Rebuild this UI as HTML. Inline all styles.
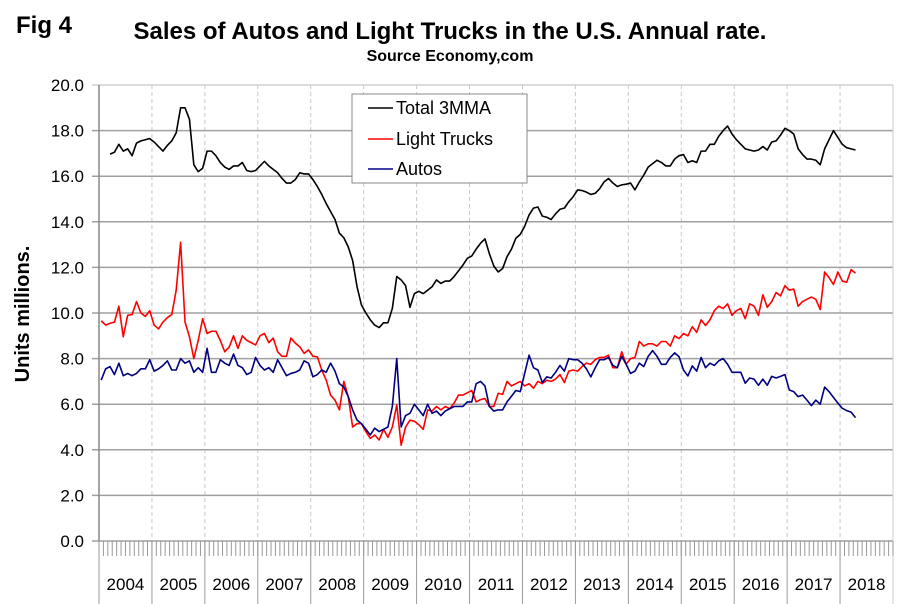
<!DOCTYPE html>
<html><head><meta charset="utf-8"><style>
html,body{margin:0;padding:0;background:#fff;}
svg{display:block;font-family:"Liberation Sans",Arial,sans-serif;}
</style></head><body>
<svg id="chart" width="902" height="604" viewBox="0 0 902 604">
<text x="16" y="33" font-size="24" font-weight="bold">Fig 4</text>
<text x="450" y="39" font-size="24" font-weight="bold" text-anchor="middle">Sales of Autos and Light Trucks in the U.S. Annual rate.</text>
<text x="450" y="61" font-size="16" font-weight="bold" text-anchor="middle">Source Economy,com</text>
<text transform="translate(29,314) rotate(-90)" font-size="20" font-weight="bold" text-anchor="middle">Units millions.</text>
<g id="grid"></g>
<g id="axes"></g>
<g id="series"></g>
<g>
<rect x="352" y="94" width="175" height="89" fill="#fff" stroke="#888" stroke-width="1"/>
<g><line x1="368" y1="108" x2="393" y2="108" stroke="#000" stroke-width="1.5"/><text x="396" y="114" font-size="18">Total 3MMA</text></g>
<g><line x1="368" y1="139" x2="393" y2="139" stroke="#f00" stroke-width="1.5"/><text x="396" y="145" font-size="18">Light Trucks</text></g>
<g><line x1="368" y1="169" x2="393" y2="169" stroke="#00008b" stroke-width="1.5"/><text x="396" y="175" font-size="18">Autos</text></g>
</g>
</svg>
<script>
const years = [2004,2005,2006,2007,2008,2009,2010,2011,2012,2013,2014,2015,2016,2017,2018];
const yTicks = [0,2,4,6,8,10,12,14,16,18,20];
const total = [null,null,16.97,17.05,17.4,17.1,17.2,16.9,17.45,17.55,17.6,17.65,
17.5,17.3,17.1,17.35,17.55,17.9,19.0,19.0,18.5,16.5,16.2,16.35,
17.1,17.1,16.9,16.6,16.4,16.3,16.45,16.45,16.6,16.25,16.2,16.25,
16.45,16.65,16.45,16.3,16.15,15.9,15.7,15.7,15.85,16.15,16.1,16.1,
15.85,15.55,15.2,14.8,14.45,14.1,13.5,13.3,12.9,12.3,11.15,10.35,
10.0,9.7,9.47,9.36,9.57,9.57,10.2,11.6,11.45,11.2,10.25,10.85,
10.95,10.85,11.0,11.15,11.45,11.3,11.4,11.4,11.6,11.85,12.1,12.4,
12.5,12.8,13.06,13.25,12.6,12.06,11.8,11.95,12.47,12.8,13.28,13.45,
13.8,14.3,14.6,14.65,14.25,14.2,14.1,14.35,14.55,14.6,14.88,15.1,
15.4,15.37,15.3,15.2,15.25,15.45,15.75,15.9,15.7,15.55,15.62,15.65,
15.7,15.4,15.75,16.05,16.4,16.55,16.7,16.6,16.45,16.45,16.75,16.9,
16.95,16.6,16.68,16.6,17.1,17.1,17.4,17.4,17.75,18.0,18.2,17.85,
17.6,17.4,17.2,17.15,17.1,17.15,17.3,17.15,17.5,17.55,17.8,18.1,
18.0,17.85,17.2,16.95,16.75,16.75,16.7,16.5,17.2,17.6,18.0,17.7,
17.4,17.25,17.2,17.15];
const lightTrucks = [9.66,9.47,9.55,9.6,10.3,8.96,9.9,9.93,10.5,10.0,9.85,10.1,
9.47,9.3,9.6,9.8,9.93,11.0,13.1,9.6,8.96,8.0,8.8,9.75,
9.1,9.2,9.2,8.8,8.3,8.5,9.0,8.45,9.0,8.8,8.7,8.6,
9.0,9.1,8.7,8.9,8.3,8.1,8.1,8.9,8.68,8.52,8.23,8.38,
8.1,8.08,7.5,7.06,6.4,6.18,5.75,7.0,6.33,5.0,5.15,5.15,
4.8,4.5,4.65,4.43,4.9,4.55,5.0,5.97,4.2,5.0,5.3,5.25,
5.1,4.9,5.75,5.7,5.9,5.75,5.9,5.8,6.05,6.4,6.4,6.5,
6.6,6.1,6.2,6.25,5.9,5.9,6.48,6.43,7.0,6.8,6.9,7.0,
6.8,6.9,6.7,7.0,6.9,7.05,7.0,7.1,7.3,6.95,7.45,7.5,
7.45,7.65,7.8,7.75,7.95,8.05,8.05,8.15,7.6,7.6,8.3,7.75,
8.0,8.05,8.75,8.55,8.65,8.65,8.55,8.75,8.75,8.55,9.0,8.88,
9.1,9.0,9.4,9.15,9.7,9.45,9.7,10.1,10.3,10.2,10.4,9.9,
10.1,10.2,9.75,10.4,10.3,9.9,10.8,10.25,10.5,10.9,10.75,11.2,
11.0,11.05,10.3,10.5,10.6,10.7,10.6,10.15,11.8,11.55,11.25,11.8,
11.4,11.35,11.9,11.75];
const autos = [7.06,7.55,7.65,7.3,7.8,7.25,7.35,7.25,7.35,7.55,7.55,7.95,
7.45,7.55,7.7,7.9,7.5,7.5,8.0,7.8,7.9,7.4,7.6,7.4,
8.45,7.4,7.4,7.95,7.8,7.7,8.2,7.7,7.6,7.3,7.4,8.05,
7.7,7.5,7.6,7.4,7.95,7.6,7.25,7.35,7.4,7.5,7.9,7.8,
7.2,7.3,7.5,7.4,7.8,7.45,6.9,6.75,6.33,5.75,5.3,5.15,
4.9,4.65,4.95,4.8,4.9,5.0,5.9,8.0,5.0,5.5,5.6,6.0,
5.75,5.5,6.0,5.6,5.7,5.5,5.7,5.8,5.9,5.9,5.9,6.1,
6.1,6.9,7.0,6.8,5.9,5.7,5.75,5.75,6.1,6.35,6.6,6.55,
7.35,8.15,7.6,7.5,6.95,7.2,7.15,7.4,7.7,7.45,8.0,7.95,
7.95,7.8,7.55,7.2,7.6,7.95,7.95,8.05,7.7,7.6,8.1,7.75,
7.35,7.45,7.8,7.65,8.1,8.35,8.1,7.75,7.75,8.05,8.25,8.08,
7.5,7.24,7.68,7.45,8.05,7.6,7.8,7.7,7.9,8.0,7.75,7.4,
7.4,7.4,6.92,7.15,7.1,6.83,7.1,6.83,7.22,7.15,7.22,7.3,
6.62,6.55,6.33,6.4,6.18,5.94,6.18,6.0,6.75,6.55,6.3,6.05,
5.82,5.72,5.65,5.41];

const NS = 'http://www.w3.org/2000/svg';
const X0 = 99, X1 = 893, Y0 = 541, YTOP = 85;
const monthW = (X1 - X0) / (years.length * 12);
function xScale(i){ return X0 + (i + 0.5) * monthW; }
function yScale(v){ return Y0 - (v / 20) * (Y0 - YTOP); }
function mk(tag, attrs, parent){
  const el = document.createElementNS(NS, tag);
  for (const k in attrs) el.setAttribute(k, attrs[k]);
  parent.appendChild(el);
  return el;
}
const grid = document.getElementById('grid');
const axes = document.getElementById('axes');
const series = document.getElementById('series');

years.forEach((y, k) => {
  if (k === 0) return;
  const x = X0 + k * 12 * monthW;
  const l = mk('line', {x1:x, y1:YTOP, x2:x, y2:Y0, stroke:'#c8c8c8', 'stroke-width':1, 'stroke-dasharray':'4,3'}, grid);
  
  
});
yTicks.forEach(v => {
  const y = yScale(v);
  const l = mk('line', {x1:X0-7, y1:y, x2:X1, y2:y, stroke: v===20 ? '#d0d0d0' : '#a0a0a0', 'stroke-width':1.5}, grid);
  
  
  const t = mk('text', {x:84, y:y+6, 'font-size':17, 'text-anchor':'end', fill:'#000'}, axes);
  t.textContent = v.toFixed(1);
  
  
});
const ya = mk('line', {x1:X0, y1:YTOP, x2:X0, y2:Y0, stroke:'#888', 'stroke-width':1.5}, axes);


const rb = mk('line', {x1:X1, y1:YTOP, x2:X1, y2:604, stroke:'#ccc', 'stroke-width':1}, axes);


for (let i = 0; i <= years.length * 12; i++) {
  const x = X0 + i * monthW;
  const t = mk('line', {x1:x, y1:Y0, x2:x, y2:556, stroke:'#999', 'stroke-width':1}, axes);
  
  
}
years.forEach((yr, k) => {
  const x = X0 + k * 12 * monthW;
  const s = mk('line', {x1:x, y1:Y0, x2:x, y2:604, stroke:'#999', 'stroke-width':1}, axes);
  
  
  const t = mk('text', {x:x + 6*monthW, y:590, 'font-size':17, 'text-anchor':'middle', fill:'#000'}, axes);
  t.textContent = yr;
  
  
});
function drawLine(arr, color, name){
  let d = '', pen = false;
  arr.forEach((v, i) => {
    if (v === null) { pen = false; return; }
    d += (pen ? 'L' : 'M') + xScale(i).toFixed(2) + ',' + yScale(v).toFixed(2);
    pen = true;
  });
  const p = mk('path', {d:d, fill:'none', stroke:color, 'stroke-width':1.6, 'stroke-linejoin':'round'}, series);
  
  
}
drawLine(total, '#000', 'total-3mma-line');
drawLine(lightTrucks, '#ff0000', 'light-trucks-line');
drawLine(autos, '#000080', 'autos-line');
</script>
</body></html>
